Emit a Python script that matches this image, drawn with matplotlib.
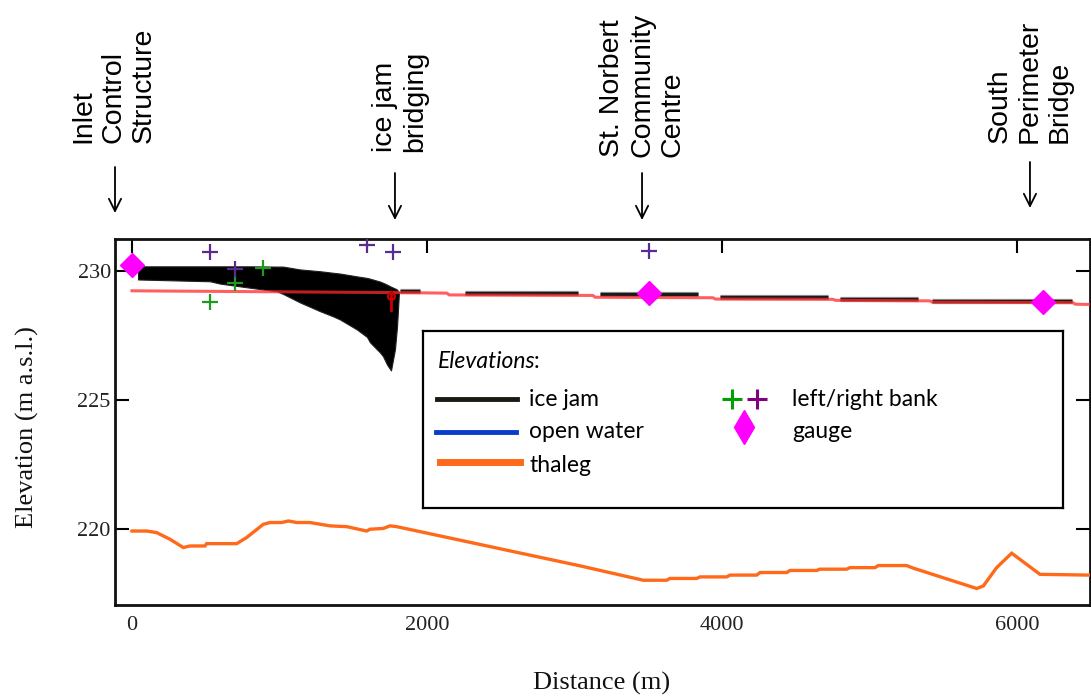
import numpy as np
import matplotlib
matplotlib.use("Agg")
import matplotlib.pyplot as plt
import matplotlib.transforms as mtransforms

# ---------------- data ----------------
thalweg_x = [0, 100, 167, 258, 348, 393, 495, 506, 710, 778, 890, 936, 1015, 1060, 1117,
             1207, 1342, 1456, 1591, 1614, 1704, 1749, 1795, 3037, 3467, 3625, 3647, 3828,
             3851, 4032, 4054, 4235, 4258, 4439, 4461, 4642, 4664, 4845, 4868, 5037, 5060,
             5252, 5297, 5727, 5772, 5862, 5964, 6156, 6495]
thalweg_y = [219.92, 219.92, 219.86, 219.60, 219.28, 219.34, 219.34, 219.43, 219.43, 219.67,
             220.18, 220.25, 220.25, 220.31, 220.25, 220.25, 220.12, 220.09, 219.92, 219.99,
             220.02, 220.12, 220.09, 218.57, 218.01, 218.01, 218.08, 218.08, 218.14, 218.14,
             218.21, 218.21, 218.31, 218.31, 218.39, 218.39, 218.44, 218.44, 218.50, 218.50,
             218.58, 218.58, 218.48, 217.69, 217.79, 218.50, 219.06, 218.24, 218.21]

ice_x = [41, 529, 597, 800, 983, 1024, 1139, 1275, 1363, 1410, 1525, 1593, 1614, 1681,
         1702, 1729, 1756, 1783, 1797, 1810]
ice_top = [230.19, 230.19, 230.19, 230.19, 230.18, 230.18, 230.07, 230.00, 229.94, 229.91,
           229.80, 229.74, 229.71, 229.60, 229.55, 229.48, 229.40, 229.33, 229.29, 229.17]
ice_bottom = [229.68, 229.61, 229.52, 229.36, 229.22, 229.12, 228.79, 228.45, 228.25, 228.13,
              227.74, 227.45, 227.24, 226.85, 226.70, 226.38, 226.15, 226.97, 227.86, 229.17]

# ice jam surface downstream of the toe (segments)
ice_seg_x0 = [1817, 2258, 3173, 3986, 4800, 5424]
ice_seg_x1 = [1953, 3024, 3837, 4719, 5329, 6373]
ice_seg_y = [229.22, 229.17, 229.12, 228.99, 228.93, 228.86]

water_x = [0, 1810, 2136, 2150, 3125, 3140, 3939, 3955, 4753, 4770, 5410, 5425, 6380, 6395, 6495]
water_y = [229.24, 229.17, 229.15, 229.08, 229.06, 228.99, 228.97, 228.92, 228.91, 228.87,
           228.85, 228.80, 228.78, 228.72, 228.71]

toe_x = 1756
toe_y = [229.2, 228.5]
toe_mark_y = 229.03

left_bank_x = [529, 698, 888]
left_bank_y = [228.79, 229.56, 230.14]
right_bank_x = [529, 698, 1593, 1769, 3505]
right_bank_y = [230.76, 230.07, 231.03, 230.76, 230.80]

gauge_x = [0, 3505, 6176]
gauge_y = [230.26, 229.16, 228.80]

xticks = [0, 2000, 4000, 6000]
yticks = [220, 225, 230]

annot_text = ["Inlet\nControl\nStructure", "ice jam\nbridging",
              "St. Norbert\nCommunity\nCentre", "South\nPerimeter\nBridge"]
annot_text_x = [-125, 1817, 3458, 6088]
annot_arrow_x = [-115, 1783, 3458, 6088]
annot_text_bottom = [143, 152, 157, 143]
annot_arrow_top = [167, 173, 173, 162]
annot_arrow_bot = [213, 220, 220, 208]

# ---------------- figure ----------------
W, H = 1091, 698
fig = plt.figure(figsize=(W / 100, H / 100), dpi=100)
ax = fig.add_axes([115 / W, 1 - 605 / H, 975 / W, 366 / H])
ax.set_xlim(-115, 6495)
ax.set_ylim(217.05, 231.25)

serif = "Liberation Serif"
sans = "Liberation Sans"
leg_font = "Lato"

c_thal = "#ff6a1a"
c_ice = "#000000"
c_water = "#ff2a2a"
c_green = "#1f9a1f"
c_purple = "#5b2c8f"
c_gauge = "#ff00ff"

ax.plot(thalweg_x, thalweg_y, color=c_thal, lw=2.4, zorder=3, solid_joinstyle="miter")
ax.fill_between(ice_x, ice_bottom, ice_top, color=c_ice, lw=0.8, edgecolor="#202020", zorder=3)
for x0, x1, y in zip(ice_seg_x0, ice_seg_x1, ice_seg_y):
    ax.plot([x0, x1], [y, y], color="#9aa09a", lw=3.8, zorder=3, solid_capstyle="butt")
    ax.plot([x0, x1], [y, y], color="#1a1a1a", lw=2.4, zorder=3.1, solid_capstyle="butt")
ax.plot(water_x, water_y, color=c_water, lw=2.2, alpha=0.75, zorder=4)
ax.plot([toe_x, toe_x], toe_y, color="#cc0000", lw=2.0, zorder=5)
ax.plot([toe_x], [toe_mark_y], marker="o", ms=5, mfc="none", mec="#cc0000", mew=1.5, zorder=5)
ax.plot(left_bank_x, left_bank_y, ls="none", marker="+", ms=11, mew=1.6, color=c_green, zorder=6)
ax.plot(right_bank_x, right_bank_y, ls="none", marker="+", ms=11, mew=1.6, color=c_purple, zorder=6)
ax.plot(gauge_x, gauge_y, ls="none", marker="D", ms=12, color=c_gauge, zorder=7, clip_on=False)

for s in ax.spines.values():
    s.set_linewidth(2.0)
    s.set_color("#111111")
ax.set_xticks(xticks)
ax.set_yticks(yticks)
ax.tick_params(axis="x", bottom=False, top=True, direction="in", length=10, width=1.5,
               pad=8, labelsize=16, labelcolor="#222222")
ax.tick_params(axis="y", left=True, right=True, direction="in", length=10, width=1.5,
               pad=3, labelsize=16, labelcolor="#222222")
for lab in ax.get_xticklabels() + ax.get_yticklabels():
    lab.set_fontfamily(serif)

ax.set_xlabel("Distance (m)", fontfamily=serif, fontsize=19, color="#111111", va="center")
ax.xaxis.set_label_coords(0.4995, -0.213)
ax.set_ylabel("Elevation (m a.s.l.)", fontfamily=serif, fontsize=19, color="#111111", va="center")
ax.yaxis.set_label_coords(-0.0903, 0.486)

# top annotations
blend = mtransforms.blended_transform_factory(ax.transData, fig.transFigure)
for txt, tx, axx, tb, at, ab in zip(annot_text, annot_text_x, annot_arrow_x,
                                     annot_text_bottom, annot_arrow_top, annot_arrow_bot):
    fig.text(tx, 1 - tb / H, txt, transform=blend, rotation=90, ha="center", va="bottom",
             multialignment="left", fontsize=20.5, fontfamily=sans, linespacing=1.2)
    ax.annotate("", xy=(axx, 1 - ab / H), xytext=(axx, 1 - at / H), xycoords=blend,
                textcoords=blend, annotation_clip=False,
                arrowprops=dict(arrowstyle="->", lw=1.3, color="black", mutation_scale=22,
                                shrinkA=0, shrinkB=0))

# legend box (inset with pixel coordinates)
lx0, ly0, lw_, lh_ = 423, 331, 640, 177
lg = fig.add_axes([lx0 / W, 1 - (ly0 + lh_) / H, lw_ / W, lh_ / H])
lg.set_xlim(0, lw_)
lg.set_ylim(lh_, 0)
lg.set_xticks([])
lg.set_yticks([])
for s in lg.spines.values():
    s.set_linewidth(1.6)
    s.set_color("black")
lg.set_zorder(10)
fs = 16.5
hdr = lg.text(15, 30, "Elevations", style="italic", fontsize=fs, fontfamily=leg_font,
              va="center", ha="left")
lg.plot([14, 94], [68, 68], color="#1a1a12", lw=3.5)
lg.plot([13, 93], [101, 101], color="#0a3ccc", lw=3.5)
lg.plot([17, 97], [131, 131], color=c_thal, lw=5)
lg.text(106, 68, "ice jam", fontsize=fs, fontfamily=leg_font, va="center")
lg.text(106, 101, "open water", fontsize=fs, fontfamily=leg_font, va="center")
lg.text(106, 134, "thaleg", fontsize=fs, fontfamily=leg_font, va="center")
lg.plot([309], [68], marker="+", ms=15, mew=2.2, color="#00a000")
lg.plot([334], [68], marker="+", ms=15, mew=2.2, color="#800080")
lg.plot([321], [96], marker="d", ms=17, color=c_gauge)
lg.text(369, 68, "left/right bank", fontsize=fs, fontfamily=leg_font, va="center")
lg.text(369, 101, "gauge", fontsize=fs, fontfamily=leg_font, va="center")

fig.canvas.draw()
r = fig.canvas.get_renderer()
bb = hdr.get_window_extent(r)
inv = lg.transData.inverted()
xe = inv.transform((bb.x1, bb.y0))[0]
lg.text(xe - 2, 30, ":", fontsize=fs, fontfamily=leg_font, va="center", ha="left")

fig.savefig("out.png", dpi=100)
